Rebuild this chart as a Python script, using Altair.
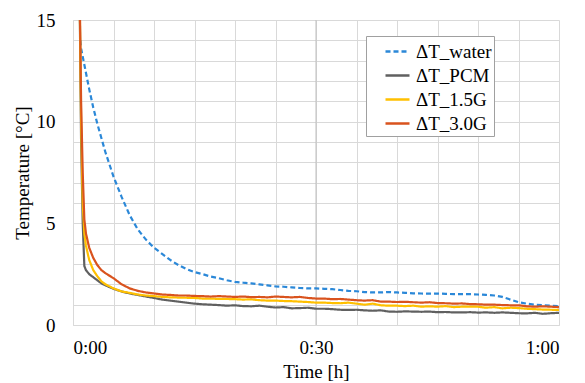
import altair as alt
import pandas as pd

series_names = ["ΔT_water", "ΔT_PCM", "ΔT_1.5G", "ΔT_3.0G"]
series_colors = ["#2b88d8", "#606060", "#ffc000", "#d9531e"]
major_minutes = [30]

minutes = list(range(5, 61))

water_t = [0.9, 1.0, 1.5, 2.0, 2.5, 3.0, 3.5, 4.0] + minutes
water_v = [14.0, 13.6, 12.6, 11.6, 10.7, 9.9, 9.2, 8.5,
           7.3, 6.3, 5.4, 4.7, 4.2, 3.8, 3.5, 3.2, 2.95, 2.75,
           2.6, 2.5, 2.38, 2.3, 2.2, 2.12, 2.08, 2.05, 2.0, 1.95,
           1.9, 1.88, 1.85, 1.82, 1.8, 1.8, 1.78, 1.76, 1.72, 1.68,
           1.66, 1.62, 1.6, 1.6, 1.62, 1.6, 1.58, 1.56, 1.55, 1.54,
           1.55, 1.53, 1.52, 1.52, 1.52, 1.5, 1.48, 1.45, 1.38, 1.25,
           1.12, 1.05, 1.0, 0.97, 0.95, 0.93]

early_t = [0.8, 1.0, 1.2, 1.4, 1.6, 2.0, 2.5, 3.0, 3.5, 4.0]

pcm_v = [17.0, 9.0, 5.0, 2.9, 2.7, 2.5, 2.35, 2.2, 2.05, 1.95,
         1.78, 1.65, 1.55, 1.48, 1.4, 1.33, 1.25, 1.2, 1.15, 1.1,
         1.05, 1.02, 1.0, 0.98, 0.95, 0.97, 0.93, 0.92, 0.95, 0.9,
         0.86, 0.88, 0.82, 0.83, 0.85, 0.8, 0.8, 0.78, 0.75, 0.74,
         0.75, 0.72, 0.7, 0.72, 0.66, 0.65, 0.67, 0.66, 0.65, 0.66,
         0.63, 0.64, 0.62, 0.62, 0.63, 0.61, 0.62, 0.6, 0.62, 0.6,
         0.58, 0.57, 0.6, 0.55, 0.58, 0.6]

g15_v = [17.0, 10.0, 6.0, 4.5, 3.9, 3.2, 2.7, 2.4, 2.15, 2.0,
         1.8, 1.65, 1.58, 1.5, 1.45, 1.42, 1.38, 1.36, 1.35, 1.34,
         1.33, 1.3, 1.3, 1.28, 1.28, 1.27, 1.25, 1.26, 1.22, 1.2,
         1.2, 1.18, 1.17, 1.15, 1.13, 1.1, 1.1, 1.08, 1.07, 1.1,
         1.05, 1.0, 1.05, 0.97, 0.95, 0.95, 0.93, 0.95, 0.9, 0.92,
         0.9, 0.93, 0.88, 0.9, 0.9, 0.9, 0.85, 0.88, 0.82, 0.85,
         0.83, 0.8, 0.78, 0.76, 0.75, 0.74]

g30_v = [17.0, 11.0, 7.5, 5.2, 4.5, 3.8, 3.3, 2.95, 2.7, 2.55,
         2.3, 2.0, 1.8, 1.68, 1.6, 1.55, 1.5, 1.48, 1.45, 1.45,
         1.43, 1.42, 1.4, 1.42, 1.4, 1.38, 1.4, 1.37, 1.38, 1.36,
         1.4, 1.38, 1.36, 1.38, 1.33, 1.3, 1.3, 1.27, 1.28, 1.25,
         1.22, 1.2, 1.22, 1.15, 1.15, 1.13, 1.14, 1.12, 1.1, 1.12,
         1.08, 1.07, 1.05, 1.06, 1.03, 1.02, 1.0, 1.0, 0.98, 0.97,
         0.97, 0.92, 0.9, 0.92, 0.9, 0.88]

solid_t = early_t + minutes

rows = []
for t, v in zip(water_t, water_v):
    rows.append({"t": t, "v": v, "s": series_names[0], "o": 0})
for name, vals, o in [(series_names[1], pcm_v, 1), (series_names[2], g15_v, 2), (series_names[3], g30_v, 3)]:
    for t, v in zip(solid_t, vals):
        rows.append({"t": t, "v": v, "s": name, "o": o})
df = pd.DataFrame(rows)
major_df = pd.DataFrame({"t": major_minutes})

FONT = "Liberation Serif"
FS = 19

x_scale = alt.Scale(domain=[0, 60], nice=False)

legend_style = dict(title=None, orient="none", legendX=293, legendY=16,
                    labelFont=FONT, labelFontSize=FS, labelColor="#000",
                    symbolType="stroke", symbolSize=576, symbolStrokeWidth=2.5,
                    symbolOffset=16, fillColor="white", strokeColor="#a0a0a0",
                    padding=2, labelOffset=5, rowPadding=0)

rule = alt.Chart(major_df).mark_rule(color="#bfbfbf", strokeWidth=1).encode(
    x=alt.X("t:Q", scale=x_scale)
)

lines = alt.Chart(df).mark_line(clip=True, strokeWidth=2.2).encode(
    x=alt.X("t:Q", scale=x_scale,
            axis=alt.Axis(values=list(range(0, 61, 5)), title="Time [h]",
                          labelExpr="datum.value == 0 ? '0:00' : datum.value == 30 ? '0:30' : datum.value == 60 ? '1:00' : ''",
                          labelFont=FONT, titleFont=FONT, labelFontSize=FS, titleFontSize=FS,
                          labelColor="#000", titleColor="#000", titleFontWeight="normal",
                          gridColor="#d9d9d9", domainColor="#d9d9d9", ticks=False,
                          labelPadding=13, titlePadding=5)),
    y=alt.Y("v:Q", scale=alt.Scale(domain=[0, 15], nice=False),
            axis=alt.Axis(values=list(range(0, 16)), title="Temperature [°C]",
                          labelExpr="datum.value % 5 == 0 ? datum.label : ''",
                          labelFont=FONT, titleFont=FONT, labelFontSize=FS, titleFontSize=FS,
                          labelColor="#000", titleColor="#000", titleFontWeight="normal",
                          gridColor="#d9d9d9", domainColor="#d9d9d9", ticks=False,
                          labelPadding=18, titlePadding=4)),
    color=alt.Color("s:N", scale=alt.Scale(domain=series_names, range=series_colors),
                    legend=alt.Legend(**legend_style)),
    strokeDash=alt.StrokeDash("s:N", scale=alt.Scale(domain=series_names, range=[[5, 3], [1, 0], [1, 0], [1, 0]]),
                              legend=alt.Legend(**legend_style)),
    order=alt.Order("o:Q"),
    detail="s:N",
)

chart = alt.layer(rule, lines).properties(
    width=486, height=305,
    padding={"left": 73, "top": 20, "right": 26, "bottom": 58},
    autosize=alt.AutoSizeParams(type="none"),
).configure_view(stroke=None)

chart.save("out.html", embed_options={"renderer": "svg", "actions": False})
